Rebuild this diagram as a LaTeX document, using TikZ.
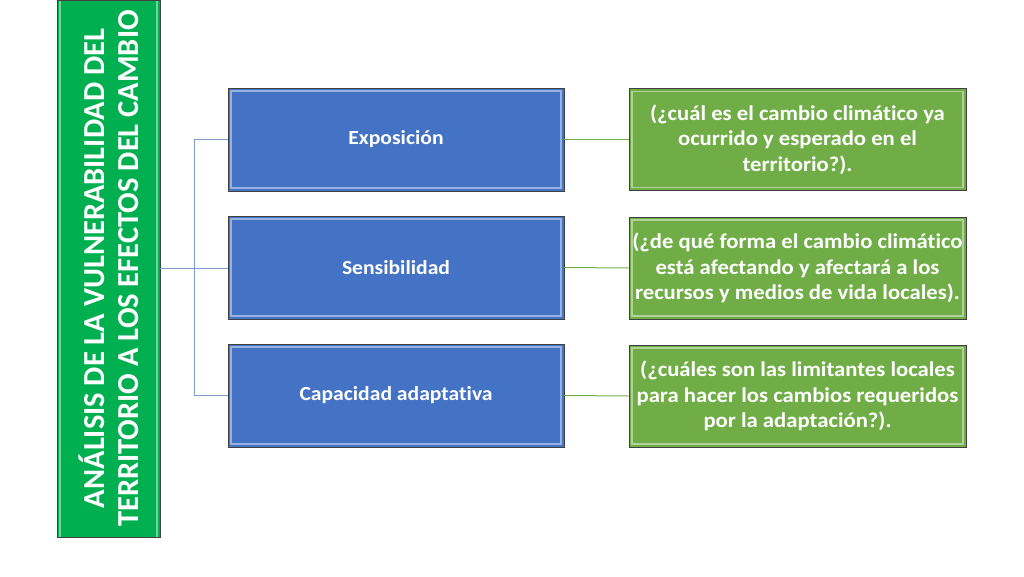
\documentclass[tikz,border=0pt]{standalone}
\usepackage{fontspec}
\setmainfont[Ligatures=NoCommon,FakeStretch=1.08]{Carlito}
\newfontfamily\rootfont[Ligatures=NoCommon]{Carlito}
\definecolor{rootgreen}{HTML}{00B050}
\definecolor{midblue}{HTML}{4472C4}
\definecolor{leafgreen}{HTML}{70AD47}
\definecolor{bluelink}{HTML}{7F9BD0}
\definecolor{greenlink}{HTML}{70AD47}
\definecolor{edge}{HTML}{404040}
\tikzset{
  bevel/.style={path picture={\draw[white, opacity=0.45, line width=1.2pt] ([shift={(3pt,-3pt)}]path picture bounding box.north west) rectangle ([shift={(-3pt,3pt)}]path picture bounding box.south east);}},
  rootbox/.style={draw=edge, line width=0.8pt, fill=rootgreen, bevel, text=white, font=\rootfont\bfseries\fontsize{30.5}{34}\selectfont, align=center, inner sep=0pt, rotate=90, minimum width=537pt, minimum height=103pt},
  midbox/.style={draw=edge, line width=0.8pt, fill=midblue, bevel, text=white, font=\bfseries\fontsize{20}{24}\selectfont, align=center, inner sep=0pt, minimum width=336pt, minimum height=103pt},
  leafbox/.style={draw=edge, line width=0.8pt, fill=leafgreen, bevel, text=white, font=\bfseries\fontsize{21}{25.5}\selectfont, align=center, inner sep=0pt, minimum width=337pt, minimum height=102pt},
  bluelinkstyle/.style={draw=bluelink, line width=1pt},
  greenlinkstyle/.style={draw=greenlink, line width=1pt}
}
\begin{document}
\begin{tikzpicture}[x=1pt,y=-1pt]
\useasboundingbox (0,0) rectangle (1024,576);
\node[rootbox] (root) at (108.5,268.5) {ANÁLISIS DE LA VULNERABILIDAD DEL\\TERRITORIO A LOS EFECTOS DEL CAMBIO};
\node[midbox] (b1) at (396,139.5) {Exposición};
\node[midbox] (b2) at (396,267.5) {Sensibilidad};
\node[midbox] (b3) at (396,395.5) {Capacidad adaptativa};
\node[leafbox] (g1) at (797.5,139.5) {(¿cuál es el cambio climático ya\\ocurrido y esperado en el\\territorio?).};
\node[leafbox] (g2) at (797.5,268) {(¿de qué forma el cambio climático\\está afectando y afectará a los\\recursos y medios de vida locales).};
\node[leafbox] (g3) at (797.5,396) {(¿cuáles son las limitantes locales\\para hacer los cambios requeridos\\por la adaptación?).};
\coordinate (j) at (194,268);
\draw[bluelinkstyle] (root.south) -- (b2.west |- root.south);
\draw[bluelinkstyle] (b1.west) -| (j);
\draw[bluelinkstyle] (b3.west) -| (j);
\draw[greenlinkstyle] (b1.east) -- (g1.west);
\draw[greenlinkstyle] (b2.east) -- (g2.west);
\draw[greenlinkstyle] (b3.east) -- (g3.west);
\end{tikzpicture}
\end{document}
